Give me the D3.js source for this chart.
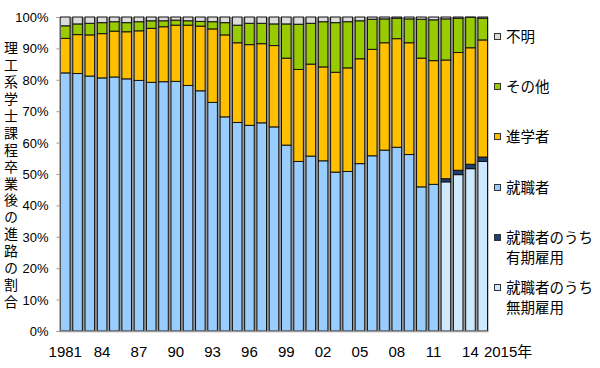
<!DOCTYPE html>
<html><head><meta charset="utf-8">
<script src="https://cdn.jsdelivr.net/npm/d3@7"></script>
<style>body{margin:0;background:#fff}svg{display:block}text{font-family:"Liberation Sans","Noto Sans CJK JP",sans-serif;fill:#000}</style>
</head><body><svg id="c" width="600" height="368"></svg>
<script>
const years = d3.range(1981, 2016);
const xLabels = ["1981","84","87","90","93","96","99","02","05","08","11","14"];
const yTicks = [0,10,20,30,40,50,60,70,80,90,100];
// 就職者 (employed, total until 2011)
const employed = [82.2,82.0,81.2,80.6,80.9,80.3,79.8,79.2,79.4,79.5,78.2,76.5,72.8,68.2,66.4,65.5,66.3,65.0,59.2,54.0,55.7,54.2,50.6,50.8,53.3,55.8,57.6,58.5,56.2,45.9,46.7,0,0,0,0];
// 就職者のうち無期雇用
const permanent = [0,0,0,0,0,0,0,0,0,0,0,0,0,0,0,0,0,0,0,0,0,0,0,0,0,0,0,0,0,0,0,47.5,49.8,51.7,54.0];
// 就職者のうち有期雇用
const fixedTerm = [0,0,0,0,0,0,0,0,0,0,0,0,0,0,0,0,0,0,0,0,0,0,0,0,0,0,0,0,0,0,0,1.0,1.4,1.4,1.4];
// 進学者
const advanced = [11.0,12.4,13.1,14.1,14.6,15.0,15.8,17.2,17.5,17.9,19.2,20.6,23.4,26.1,25.4,25.7,25.2,25.9,27.7,29.3,29.3,29.9,31.8,33.0,33.4,33.9,34.2,34.6,35.6,41.0,39.4,37.8,37.5,37.1,37.3];
// その他
const other = [4.0,3.4,3.7,3.5,3.0,2.9,2.9,2.4,1.9,1.6,1.4,1.5,2.3,3.9,5.6,6.8,6.5,6.9,10.9,14.4,13.0,14.4,15.8,14.7,12.1,9.6,7.6,6.5,7.6,12.4,13.0,13.1,10.9,9.7,6.9];
// 不明
const unknown = [2.8,2.2,2.0,1.8,1.5,1.8,1.5,1.2,1.2,1.0,1.2,1.4,1.5,1.8,2.6,2.0,2.0,2.2,2.2,2.3,2.0,1.5,1.8,1.5,1.2,0.7,0.6,0.4,0.6,0.7,0.9,0.6,0.4,0.1,0.4];

const seriesNames = ["無期雇用","有期雇用","就職者","進学者","その他","不明"];
const seriesData = [permanent, fixedTerm, employed, advanced, other, unknown];
const colors = ["#cfeaff","#1f3f6e","#99ccff","#ffc000","#99cc00","#dcdcdc"];

const rows = years.map((y,i)=>{const r={year:y}; seriesNames.forEach((n,k)=>r[n]=seriesData[k][i]); return r;});
const stack = d3.stack().keys(seriesNames)(rows);

const svg = d3.select("#c");
const L=59.5, R=488.5, T=17, B=331;
const x = d3.scaleBand().domain(years).range([L,R]).paddingInner(0.22).paddingOuter(0.08);
const y = d3.scaleLinear().domain([0,100]).range([B,T]);

// gray gap background
svg.append("rect").attr("x",L).attr("y",T).attr("width",R-L).attr("height",B-T).attr("fill","#9a9a9a");

svg.append("g").selectAll("g").data(stack).join("g").attr("fill",(d,i)=>colors[i])
 .selectAll("rect").data(d=>d.filter(s=>s[1]-s[0]>0)).join("rect")
 .attr("x",d=>x(d.data.year)).attr("width",x.bandwidth())
 .attr("y",d=>y(d[1])).attr("height",d=>y(d[0])-y(d[1]))
 .attr("stroke","#111").attr("stroke-width",1);

// axes
const yAxis = d3.axisLeft(y).tickValues(yTicks).tickSize(3).tickFormat(d=>d+"%");
const gy = svg.append("g").attr("transform",`translate(${L},0)`).call(yAxis);
gy.select(".domain").attr("stroke","#999");
gy.selectAll(".tick line").attr("stroke","#999");
gy.selectAll(".tick text").attr("font-size",13).attr("x",-11).attr("dy","0.35em").style("font-family","Liberation Sans, sans-serif");

svg.append("line").attr("x1",L).attr("x2",R).attr("y1",B+0.5).attr("y2",B+0.5).attr("stroke","#999").attr("stroke-width",1.5);

const labelYears = {};
xLabels.forEach(l=>{const yr = l.length===4?+l:(+l<50?2000+ +l:1900+ +l); labelYears[yr]=l;});
svg.append("g").selectAll("text").data(Object.keys(labelYears).map(Number)).join("text")
 .attr("x",d=>x(d)+x.bandwidth()/2).attr("y",357).attr("text-anchor","middle").attr("font-size",15)
 .text(d=>labelYears[d]);
svg.append("text").attr("x",x(2015)+6).attr("y",357).attr("font-size",15).text("2015年");

// y title (vertical, single text element)
svg.append("text")
 .attr("transform","translate(11,41)")
 .style("writing-mode","vertical-rl").style("font-family","Noto Sans CJK JP")
 .attr("font-size",14).style("letter-spacing","2.9px")
 .text("理工系学士課程卒業後の進路の割合");

// legend
const legend = [
 {i:5, lines:["不明"], y:37},
 {i:4, lines:["その他"], y:87},
 {i:3, lines:["進学者"], y:137},
 {i:2, lines:["就職者"], y:188},
 {i:1, lines:["就職者のうち","有期雇用"], y:238},
 {i:0, lines:["就職者のうち","無期雇用"], y:288}
];
const lg = svg.append("g").selectAll("g").data(legend).join("g");
lg.append("rect").attr("x",494.5).attr("y",d=>d.y-3.5).attr("width",6).attr("height",6)
 .attr("fill",d=>colors[d.i]).attr("stroke","#333").attr("stroke-width",1);
lg.append("text").attr("x",506).attr("y",d=>d.y+5).attr("font-size",14.5)
 .style("font-family","Noto Sans CJK JP")
 .each(function(d){
   d3.select(this).selectAll("tspan").data(d.lines).join("tspan")
    .attr("x",506).attr("dy",(t,j)=>j===0?0:20).text(t=>t);
 });
</script></body></html>
